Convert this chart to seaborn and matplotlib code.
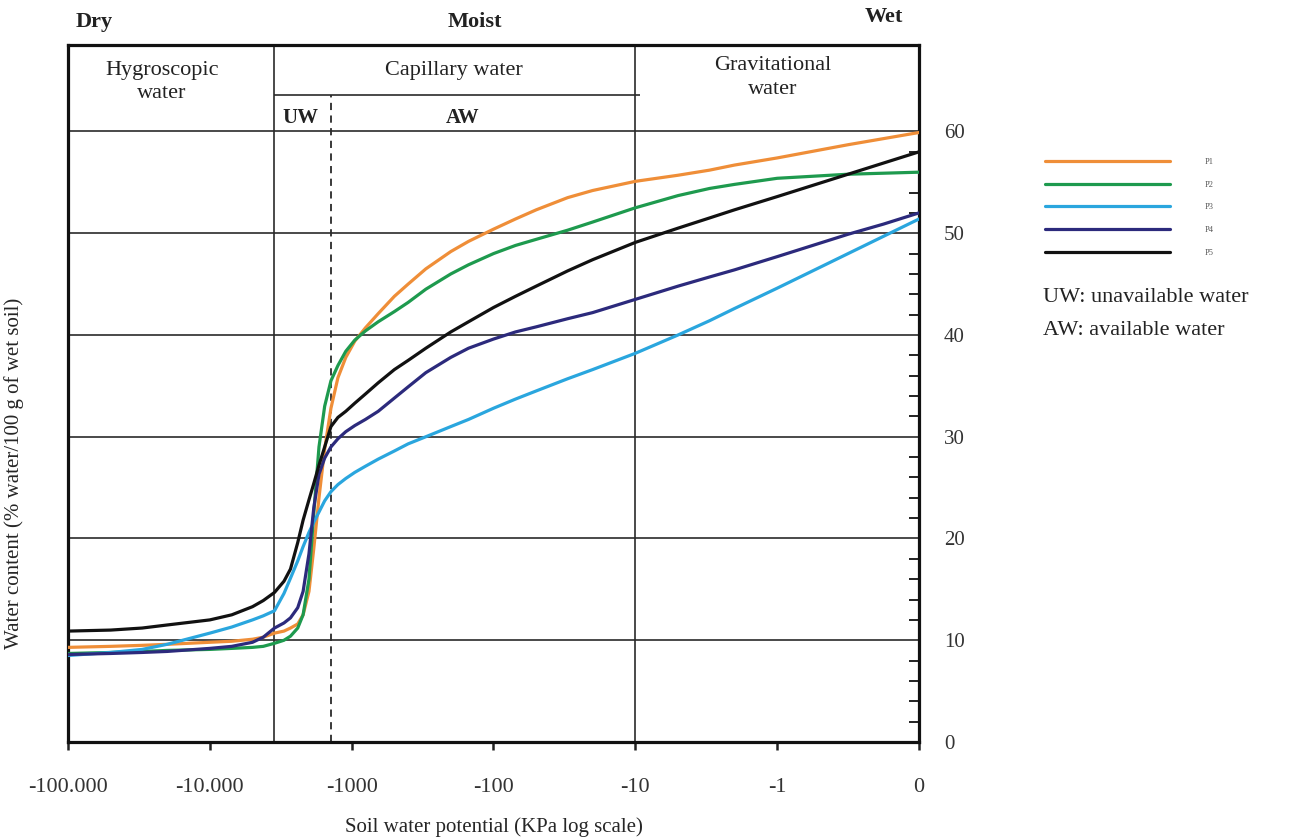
import numpy as np
import pandas as pd
import matplotlib
matplotlib.use("Agg")
import matplotlib.pyplot as plt
from matplotlib.ticker import FixedLocator, NullLocator
import seaborn as sns

# Soil water potential (kPa) at which each retention curve is sampled
potential = [-100000, -50000, -30000, -20000, -10000, -7000, -5000, -4200, -3500,
             -3000, -2700, -2400, -2200, -2000, -1850, -1700, -1550, -1400,
             -1250, -1100, -950, -800, -650, -500, -400, -300, -200, -150,
             -100, -70, -50, -30, -20, -10, -5, -3, -2, -1, -0.5, -0.25, 0]

# Water content (% water / 100 g of wet soil) for each soil profile
p1 = [9.3, 9.4, 9.5, 9.6, 9.8, 9.9, 10.1, 10.3, 10.7, 10.9, 11.2, 11.6, 12.5, 14.8,
      19.0, 24.0, 28.8, 32.8, 35.8, 37.8, 39.4, 40.7, 42.1, 43.8, 45.0, 46.5, 48.2,
      49.2, 50.4, 51.4, 52.3, 53.5, 54.2, 55.1, 55.7, 56.2, 56.7, 57.4, 58.7, 59.3, 59.9]
p2 = [8.7, 8.8, 8.9, 9.0, 9.1, 9.2, 9.3, 9.4, 9.7, 10.0, 10.4, 11.2, 12.5, 16.0,
      22.5, 29.0, 33.0, 35.5, 37.0, 38.4, 39.5, 40.4, 41.3, 42.3, 43.2, 44.5, 46.0,
      46.9, 48.0, 48.8, 49.4, 50.3, 51.1, 52.5, 53.7, 54.4, 54.8, 55.4, 55.8, 55.9, 56.0]
p3 = [8.5, 8.8, 9.1, 9.6, 10.7, 11.3, 12.0, 12.4, 12.9, 14.6, 16.1, 17.8, 19.2, 20.6,
      21.6, 22.6, 23.7, 24.6, 25.3, 25.9, 26.5, 27.1, 27.8, 28.6, 29.3, 30.0, 31.0,
      31.7, 32.8, 33.7, 34.5, 35.7, 36.6, 38.2, 40.0, 41.4, 42.6, 44.6, 48.0, 49.7, 51.4]
p4 = [8.6, 8.7, 8.8, 8.9, 9.2, 9.4, 9.8, 10.3, 11.2, 11.7, 12.2, 13.2, 14.8, 18.5,
      23.0, 26.3, 27.9, 29.0, 29.8, 30.5, 31.1, 31.7, 32.5, 33.8, 34.9, 36.3, 37.8,
      38.7, 39.6, 40.3, 40.8, 41.6, 42.2, 43.5, 44.8, 45.7, 46.4, 47.7, 49.9, 50.9, 52.0]
p5 = [10.9, 11.0, 11.2, 11.5, 12.0, 12.5, 13.3, 13.9, 14.7, 15.8, 17.0, 19.6, 21.8,
      23.8, 25.4, 27.2, 29.0, 31.0, 31.9, 32.5, 33.3, 34.2, 35.3, 36.6, 37.5, 38.7,
      40.3, 41.3, 42.7, 43.8, 44.8, 46.3, 47.4, 49.1, 50.5, 51.5, 52.3, 53.6, 55.8,
      56.9, 58.0]

profiles = ["P1", "P2", "P3", "P4", "P5"]
profile_colors = ["#EF8E38", "#1E9A4E", "#2AA6DE", "#2C2A7C", "#111111"]

x_ticks = [-100000, -10000, -1000, -100, -10, -1, 0]
x_tick_labels = ["-100.000", "-10.000", "-1000", "-100", "-10", "-1", "0"]
y_ticks = [0, 10, 20, 30, 40, 50, 60]

# Water class boundaries (kPa)
hygroscopic_limit = -3500
wilting_point = -1400
field_capacity = -10

# Levels of the header rows drawn above the curves
y_top = 68.5
sub_header_level = 63.6

sns.set_style("white")
plt.rcParams["font.family"] = ["Liberation Serif", "DejaVu Serif"]
plt.rcParams["text.color"] = "#222222"


def to_pos(x):
    """kPa -> axis position: one unit per decade, linear between -1 and 0."""
    x = np.asarray(x, dtype=float)
    safe = np.minimum(x, -1.0)
    return np.where(x <= -1, 5 - np.log10(-safe), 6 + x)


def from_pos(p):
    p = np.asarray(p, dtype=float)
    return np.where(p <= 5, -10.0 ** (5 - np.clip(p, -20, 5)), p - 6)


df = pd.concat(
    [pd.DataFrame({"potential": potential, "water": vals, "profile": name})
     for name, vals in zip(profiles, [p1, p2, p3, p4, p5])],
    ignore_index=True,
)

fig = plt.figure(figsize=(12.97, 8.38), dpi=100)
ax = fig.add_axes([68 / 1297, 96 / 838, 851 / 1297, 697 / 838])

ax.set_xscale("function", functions=(to_pos, from_pos))

sns.lineplot(data=df, x="potential", y="water", hue="profile",
             palette=dict(zip(profiles, profile_colors)), estimator=None,
             sort=False, linewidth=2.3, ax=ax, zorder=5)

ax.set_xlim(-100000, 0)
ax.set_ylim(0, y_top)

# Grid: horizontal rules every 10 %, class boundaries as vertical rules
for v in y_ticks[1:]:
    ax.axhline(v, color="#2a2a2a", lw=1.2, zorder=1)
ax.axvline(hygroscopic_limit, color="#2a2a2a", lw=1.2, zorder=1)
ax.axvline(field_capacity, color="#2a2a2a", lw=1.2, zorder=1)
ax.vlines(wilting_point, 0, sub_header_level, color="#2a2a2a", lw=1.3,
          linestyles=(0, (4, 3)), zorder=1)
ax.hlines(sub_header_level, hygroscopic_limit, field_capacity * 0.92,
          color="#2a2a2a", lw=1.2, zorder=1)

for side in ["left", "right", "top", "bottom"]:
    ax.spines[side].set_visible(True)
    ax.spines[side].set_color("#111111")
    ax.spines[side].set_linewidth(2.3)

ax.set_xticks(x_ticks)
ax.set_xticklabels(x_tick_labels)
ax.xaxis.set_minor_locator(NullLocator())
ax.tick_params(axis="x", which="major", direction="out", length=6, width=1.8,
               color="#222222", labelsize=16, pad=20, bottom=True,
               labelcolor="#333333")

ax.yaxis.tick_right()
ax.set_yticks(y_ticks)
ax.yaxis.set_minor_locator(FixedLocator([v for v in range(0, 61, 2) if v % 10]))
ax.tick_params(axis="y", which="major", length=0, labelsize=15, pad=18,
               left=False, right=True, labelleft=False, labelright=True,
               labelcolor="#333333")
ax.tick_params(axis="y", which="minor", direction="in", length=7, width=1.4,
               color="#222222", left=False, right=True)

ax.set_xlabel("Soil water potential (KPa log scale)", fontsize=15)
ax.xaxis.set_label_coords(0.5, -0.108)
ax.yaxis.set_label_position("left")
ax.set_ylabel("Water content (% water/100 g of wet soil)", fontsize=15)
ax.yaxis.set_label_coords(-0.052, 0.385)

# Header: moisture state and water classes
ax.text(-89000, 70.8, "Dry", ha="left", va="center", fontsize=16, fontweight="bold")
ax.text(-135, 70.8, "Moist", ha="center", va="center", fontsize=16, fontweight="bold")
ax.text(-0.25, 71.3, "Wet", ha="center", va="center", fontsize=16, fontweight="bold")
ax.text(-21700, 64.9, "Hygroscopic\nwater", ha="center", va="center",
        fontsize=16, linespacing=1.3)
ax.text(-190, 66.0, "Capillary water", ha="center", va="center", fontsize=16)
ax.text(-1.07, 65.3, "Gravitational\nwater", ha="center", va="center",
        fontsize=16, linespacing=1.3)
ax.text(-2300, 61.3, "UW", ha="center", va="center", fontsize=15, fontweight="bold")
ax.text(-165, 61.3, "AW", ha="center", va="center", fontsize=15, fontweight="bold")

sns.move_legend(ax, "upper left", bbox_to_anchor=(1045 / 1297, 1 - 158 / 838),
                bbox_transform=fig.transFigure, title=None, frameon=False,
                fontsize=6, handlelength=15, handletextpad=4.2,
                labelspacing=1.76, borderpad=0, borderaxespad=0,
                labelcolor="#555555")

fig.text(1043 / 1297, 1 - 298 / 838, "UW: unavailable water", ha="left",
         va="center", fontsize=16)
fig.text(1043 / 1297, 1 - 330 / 838, "AW: available water", ha="left",
         va="center", fontsize=16)

fig.savefig("out.png", dpi=100, facecolor="white")
